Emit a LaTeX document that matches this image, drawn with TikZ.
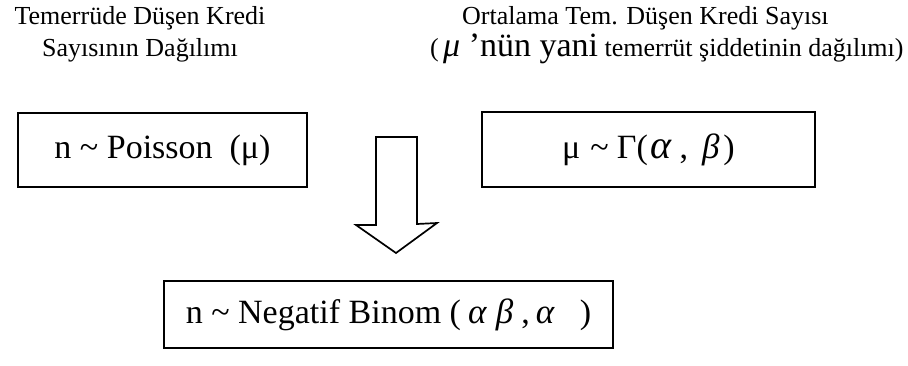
\documentclass[tikz,border=0pt]{standalone}
\usepackage{fontspec}
\setmainfont{Liberation Serif}
\newcommand{\hd}{\fontsize{26}{30}\selectfont}
\newcommand{\bx}{\fontsize{34}{40}\selectfont}
\newcommand{\gk}[1]{{\fontsize{40}{44}\selectfont\textit{#1}}}
\newcommand{\gks}[1]{{\fontsize{35}{40}\selectfont\textit{#1}}}
\begin{document}
\begin{tikzpicture}[x=1pt,y=1pt,
  box/.style={draw,line width=1.7pt,rectangle,inner sep=0pt,font=\bx},
  head/.style={inner sep=0pt,font=\hd},
  blockarrow/.style={draw,line width=1.7pt,line join=miter}]
\useasboundingbox (0,0) rectangle (908,365);
% headings
\node[head,anchor=base] (h1) at (140,340) {Temerrüde Düşen Kredi};
\node[head,anchor=base] (h2) at (140,308) {Sayısının Dağılımı};
\node[head,anchor=base west] (h3) at (462,340) {Ortalama Tem. Düşen Kredi Sayısı};
\node[head,anchor=base west] (h4) at (430,308) {(\,{\fontsize{34}{40}\selectfont\textit{μ} ’nün yani} temerrüt şiddetinin dağılımı)};
% boxes
\node[box,minimum width=289,minimum height=74] (pois) at (162.5,215) {n \textasciitilde{} Poisson\ \ (μ)};
\node[box,minimum width=333,minimum height=75] (gam) at (648.5,215.5) {μ\hspace{10pt}\textasciitilde\hspace{8pt}Γ(\hspace{3pt}\gk{α}\hspace{7pt},\hspace{14pt}\gks{β}\hspace{10pt}\kern-6pt\hspace{6pt}\kern-6pt)};
\node[box,minimum width=449,minimum height=67] (nb) at (388.5,50.5) {n \textasciitilde{} Negatif Binom (\hspace{7pt}\gks{α}\hspace{9pt}\gks{β}\hspace{8pt},\hspace{6pt}\gks{α}\hspace{25pt})};
% block arrow
\coordinate (tip) at (396,112);
\draw[blockarrow] (376,228) -- (417,228) -- (417,141) -- (437,142) -- (tip) -- (356,140) -- (376,140) -- cycle;
\end{tikzpicture}
\end{document}
